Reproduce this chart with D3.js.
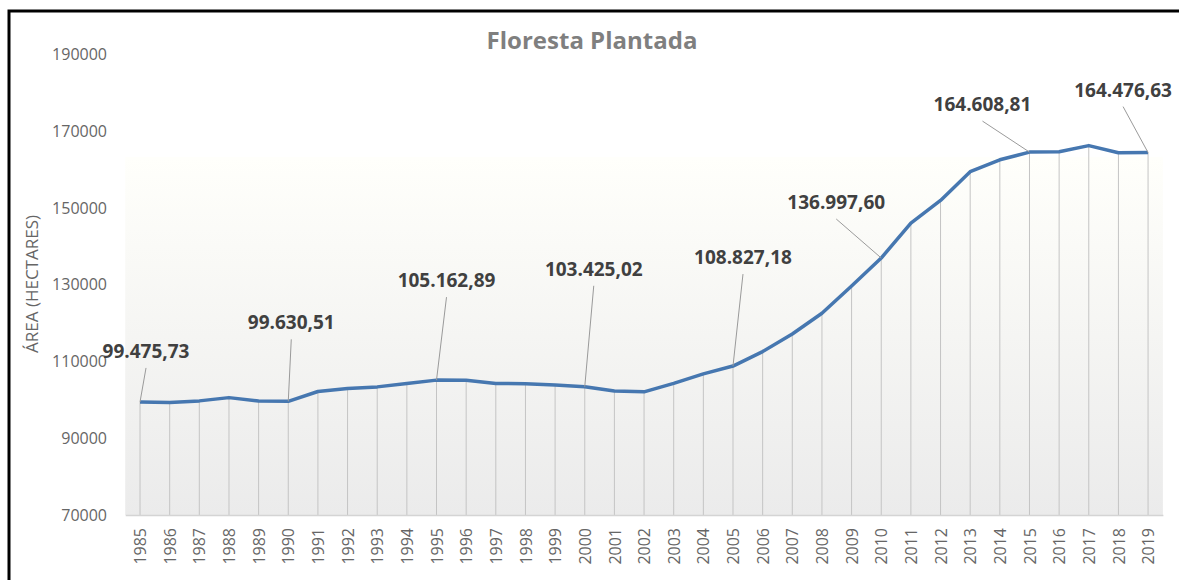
<!DOCTYPE html>
<html>
<head>
<meta charset="utf-8">
<script src="https://cdn.jsdelivr.net/npm/d3@7"></script>
<style>
  body { margin: 0; background: #fff; overflow: hidden; }
  svg { display: block; }
  text { font-family: "Open Sans", "Liberation Sans", sans-serif; }
</style>
</head>
<body>
<div id="chart"></div>
<script>
// Data (area in hectares).
var years = [1985, 1986, 1987, 1988, 1989, 1990, 1991, 1992, 1993, 1994,
             1995, 1996, 1997, 1998, 1999, 2000, 2001, 2002, 2003, 2004,
             2005, 2006, 2007, 2008, 2009, 2010, 2011, 2012, 2013, 2014,
             2015, 2016, 2017, 2018, 2019];
var area = [99475.73, 99350, 99750, 100600, 99700, 99630.51, 102200, 103000, 103400, 104300,
            105162.89, 105100, 104300, 104200, 103900, 103425.02, 102300, 102100, 104300, 106800,
            108827.18, 112600, 117200, 122600, 129700, 136997.60, 146100, 152000, 159500, 162600,
            164608.81, 164700, 166300, 164450, 164476.63];
var yTicks = [70000, 90000, 110000, 130000, 150000, 170000, 190000];
var labelledYears = [1985, 1990, 1995, 2000, 2005, 2010, 2015, 2019];
// label offset from its point, in pixels (dx, dy to baseline)
var labelOffsets = [[6, -44], [3, -72], [10, -93], [9, -111], [10, -102], [-45, -49], [-47, -41], [-25, -56]];

var W = 1179, H = 580;
var svg = d3.select('#chart').append('svg').attr('width', W).attr('height', H);

// Outer frame: only the top and left edges fall inside the picture.
svg.append('path').attr('d', 'M9,' + H + 'V11H' + W)
  .attr('fill', 'none').attr('stroke', '#000').attr('stroke-width', 3);

var x = d3.scalePoint().domain(years).range([125.2, 1162.9]).padding(0.5),
    y = d3.scaleLinear().domain([70000, 190000]).range([515, 54.7]);

var br = d3.formatLocale({decimal: ',', thousands: '.', grouping: [3], currency: ['', '']}).format(',.2f');

// Plot area gradient.
var grad = svg.append('defs').append('linearGradient').attr('id', 'bg').attr('x1', 0).attr('y1', 0).attr('x2', 0).attr('y2', 1);
grad.append('stop').attr('offset', '0%').attr('stop-color', '#fffffb');
grad.append('stop').attr('offset', '100%').attr('stop-color', '#ebebeb');
svg.append('rect').attr('x', 125.2).attr('y', 157).attr('width', 1162.9 - 125.2).attr('height', 515 - 157).attr('fill', 'url(#bg)');

// Title.
svg.append('text').attr('x', 592).attr('y', 49).attr('text-anchor', 'middle')
  .style('font-size', '24px').style('font-weight', 700).style('fill', '#7f7f7f').text('Floresta Plantada');

// Y axis.
var yAxis = svg.append('g').attr('transform', 'translate(125,0)')
  .call(d3.axisLeft(y).tickValues(yTicks).tickSize(0).tickPadding(18).tickFormat(d3.format('d')));
yAxis.select('.domain').remove();
yAxis.selectAll('text').style('font-size', '16px').style('fill', '#666').style('font-family', '"Open Sans", sans-serif');

svg.append('text').attr('transform', 'translate(38,284) rotate(-90)').attr('text-anchor', 'middle')
  .style('font-size', '17px').style('fill', '#666').text('ÁREA (HECTARES)');

// Drop lines from each point to the axis.
svg.selectAll('.drop').data(years).enter().append('line').attr('class', 'drop')
  .attr('x1', function(d) { return x(d); }).attr('x2', function(d) { return x(d); })
  .attr('y1', function(d, i) { return y(area[i]); }).attr('y2', y(70000))
  .attr('stroke', '#c4c4c4').attr('stroke-width', 1);

// X axis.
var xAxis = svg.append('g').attr('transform', 'translate(0,' + y(70000) + ')')
  .call(d3.axisBottom(x).tickSize(0).tickPadding(0));
xAxis.select('.domain').attr('stroke', '#d4d4d4').attr('stroke-width', 1.5);
xAxis.selectAll('text').attr('transform', 'rotate(-90)').attr('text-anchor', 'end')
  .attr('x', -13).attr('y', 0).attr('dy', '0.35em')
  .style('font-size', '16px').style('fill', '#666').style('font-family', '"Open Sans", sans-serif');

// Line.
var line = d3.line().x(function(d) { return x(d); }).y(function(d, i) { return y(area[i]); });
svg.append('path').datum(years).attr('d', line).attr('fill', 'none')
  .attr('stroke', '#4677b0').attr('stroke-width', 3.5).attr('stroke-linejoin', 'round');

// Data labels with leader lines.
var labs = labelledYears.map(function(yr, k) {
  var i = years.indexOf(yr);
  return {x: x(yr), y: y(area[i]), v: area[i], dx: labelOffsets[k][0], dy: labelOffsets[k][1]};
});
svg.selectAll('.leader').data(labs).enter().append('line').attr('class', 'leader')
  .attr('x1', function(d) { return d.x + d.dx; }).attr('y1', function(d) { return d.y + d.dy + 10; })
  .attr('x2', function(d) { return d.x; }).attr('y2', function(d) { return d.y; })
  .attr('stroke', '#9a9a9a').attr('stroke-width', 1);
svg.selectAll('.dlabel').data(labs).enter().append('text').attr('class', 'dlabel')
  .attr('x', function(d) { return d.x + d.dx; }).attr('y', function(d) { return d.y + d.dy; })
  .attr('text-anchor', 'middle').style('font-size', '19px').style('font-weight', 700).style('fill', '#404040')
  .text(function(d) { return br(d.v); });
</script>
</body>
</html>
